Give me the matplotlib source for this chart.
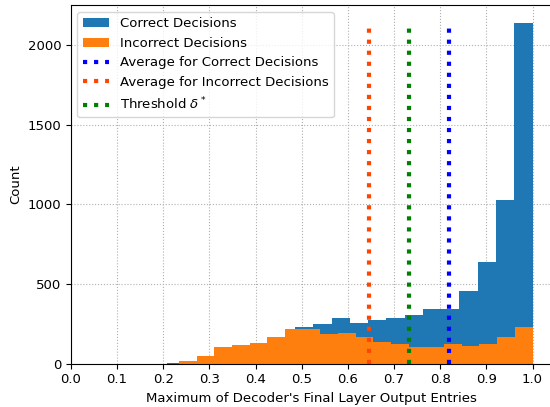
import numpy as np
import matplotlib
matplotlib.use('Agg')
import matplotlib.pyplot as plt

plt.rcParams['font.size'] = 9.5

# histogram counts (20 bins each, over [min, 1.0])
correct_min = 0.2084
correct_counts = [2, 5, 10, 20, 30, 50, 120, 230, 249, 286,
                  255, 274, 286, 305, 343, 343, 456, 638, 1027, 2138]
incorrect_min = 0.234
incorrect_counts = [16, 48, 104, 117, 129, 167, 217, 217, 186, 192,
                    167, 136, 123, 104, 104, 123, 110, 123, 167, 230]

avg_correct = 0.820
avg_incorrect = 0.646
threshold = 0.733
line_top = 2110

# bin edges
edges_c = np.linspace(correct_min, 1.0, len(correct_counts) + 1)
edges_i = np.linspace(incorrect_min, 1.0, len(incorrect_counts) + 1)
mid_c = (edges_c[:-1] + edges_c[1:]) / 2
mid_i = (edges_i[:-1] + edges_i[1:]) / 2

fig = plt.figure(figsize=(5.5, 4.07), dpi=100)
ax = fig.add_axes([70.9/550, 43.4/407, (551-70.9)/550, 358.3/407])

ax.hist(mid_c, bins=edges_c, weights=correct_counts, color='tab:blue', label='Correct Decisions')
ax.hist(mid_i, bins=edges_i, weights=incorrect_counts, color='tab:orange', label='Incorrect Decisions')

ax.vlines(avg_correct, 0, line_top, colors='blue', linestyles=':', linewidth=3,
          label='Average for Correct Decisions')
ax.vlines(avg_incorrect, 0, line_top, colors='orangered', linestyles=':', linewidth=3,
          label='Average for Incorrect Decisions')
ax.vlines(threshold, 0, line_top, colors='green', linestyles=':', linewidth=3,
          label=r'Threshold $\delta^*$')

ax.set_xlim(0, 1.04)
ax.set_ylim(0, 2250)
ax.set_xticks(np.arange(0, 1.01, 0.1))
ax.set_yticks([0, 500, 1000, 1500, 2000])
ax.grid(linestyle=':', color='#b0b0b0')
ax.set_axisbelow(True)
ax.set_xlabel("Maximum of Decoder's Final Layer Output Entries")
ax.set_ylabel('Count')
ax.legend(loc='upper left')

fig.savefig('out.png', dpi=100)
